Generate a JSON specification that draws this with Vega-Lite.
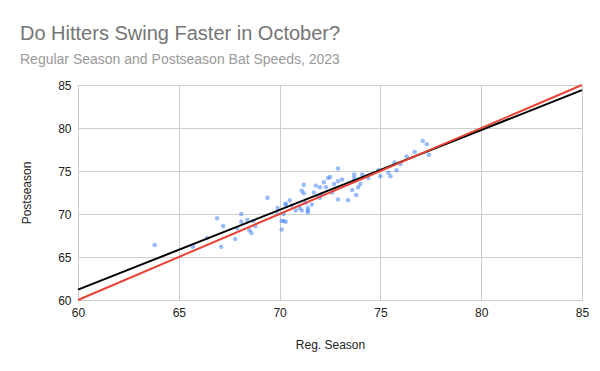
{
  "$schema": "https://vega.github.io/schema/vega-lite/v6.json",
  "width": 504,
  "height": 215,
  "autosize": "none",
  "padding": {"left": 78, "top": 85, "right": 18, "bottom": 71},
  "background": "white",
  "config": {
    "view": {"stroke": null},
    "font": "Liberation Sans",
    "axis": {
      "gridColor": "#cccccc",
      "domain": false,
      "ticks": false,
      "labelFlush": false,
      "labelColor": "#222222",
      "labelFontSize": 12,
      "labelFont": "Liberation Sans",
      "titleFont": "Liberation Sans",
      "titleFontSize": 12,
      "titleFontWeight": "normal",
      "titleColor": "#222222"
    }
  },
  "title": {
    "text": "Do Hitters Swing Faster in October?",
    "subtitle": "Regular Season and Postseason Bat Speeds, 2023",
    "anchor": "start",
    "frame": "group",
    "dx": -58,
    "offset": 12,
    "font": "Liberation Sans",
    "fontSize": 20,
    "fontWeight": "normal",
    "color": "#757575",
    "subtitleFont": "Liberation Sans",
    "subtitleFontSize": 14,
    "subtitleColor": "#999999",
    "subtitlePadding": 9
  },
  "datasets": {
    "players": [
      {"reg": 63.8, "post": 66.4}, {"reg": 65.7, "post": 66.2}, {"reg": 66.4, "post": 67.2},
      {"reg": 66.9, "post": 69.5}, {"reg": 67.2, "post": 68.6}, {"reg": 67.1, "post": 66.2},
      {"reg": 67.8, "post": 67.1}, {"reg": 67.9, "post": 68.3}, {"reg": 68.1, "post": 70.0},
      {"reg": 68.1, "post": 69.1}, {"reg": 68.4, "post": 69.3}, {"reg": 68.5, "post": 68.1},
      {"reg": 68.6, "post": 67.8}, {"reg": 68.7, "post": 69.2}, {"reg": 68.8, "post": 68.6},
      {"reg": 69.4, "post": 71.9}, {"reg": 69.9, "post": 70.7}, {"reg": 69.9, "post": 70.0},
      {"reg": 70.1, "post": 68.2}, {"reg": 70.1, "post": 69.2}, {"reg": 70.2, "post": 69.2},
      {"reg": 70.3, "post": 69.1}, {"reg": 70.2, "post": 70.0}, {"reg": 70.3, "post": 71.1},
      {"reg": 70.3, "post": 71.2}, {"reg": 70.5, "post": 71.6}, {"reg": 70.6, "post": 71.0},
      {"reg": 70.8, "post": 70.4}, {"reg": 71.0, "post": 70.7}, {"reg": 71.1, "post": 70.4},
      {"reg": 71.2, "post": 73.4}, {"reg": 71.1, "post": 72.7}, {"reg": 71.2, "post": 72.4},
      {"reg": 71.3, "post": 71.3}, {"reg": 71.4, "post": 70.4}, {"reg": 71.4, "post": 70.2},
      {"reg": 71.4, "post": 70.7}, {"reg": 71.6, "post": 71.1}, {"reg": 71.7, "post": 72.5},
      {"reg": 71.8, "post": 73.3}, {"reg": 71.9, "post": 72.1}, {"reg": 72.0, "post": 71.9},
      {"reg": 72.1, "post": 72.3}, {"reg": 72.0, "post": 73.1}, {"reg": 72.2, "post": 73.7},
      {"reg": 72.3, "post": 73.1}, {"reg": 72.4, "post": 74.2}, {"reg": 72.5, "post": 74.3},
      {"reg": 72.7, "post": 73.5}, {"reg": 72.9, "post": 73.8}, {"reg": 72.9, "post": 71.7},
      {"reg": 72.6, "post": 72.5}, {"reg": 72.9, "post": 75.3}, {"reg": 73.1, "post": 74.0},
      {"reg": 73.4, "post": 71.6}, {"reg": 73.7, "post": 74.6}, {"reg": 73.7, "post": 74.2},
      {"reg": 73.7, "post": 73.8}, {"reg": 73.6, "post": 72.8}, {"reg": 73.9, "post": 73.1},
      {"reg": 73.8, "post": 72.2}, {"reg": 74.1, "post": 74.6}, {"reg": 74.0, "post": 73.5},
      {"reg": 74.4, "post": 74.2}, {"reg": 74.9, "post": 75.1}, {"reg": 75.0, "post": 74.4},
      {"reg": 75.4, "post": 74.8}, {"reg": 75.5, "post": 74.4}, {"reg": 75.8, "post": 75.1},
      {"reg": 75.7, "post": 76.0}, {"reg": 76.0, "post": 75.8}, {"reg": 76.3, "post": 76.7},
      {"reg": 76.7, "post": 77.2}, {"reg": 77.1, "post": 78.5}, {"reg": 77.3, "post": 78.1},
      {"reg": 77.4, "post": 76.9}
    ],
    "lines": [
      {"series": "trend", "reg": 60, "post": 61.2},
      {"series": "trend", "reg": 85, "post": 84.4},
      {"series": "equal", "reg": 60, "post": 60},
      {"series": "equal", "reg": 85, "post": 85}
    ]
  },
  "layer": [
    {
      "data": {"name": "players"},
      "mark": {"type": "circle", "size": 20, "color": "#4285f4", "opacity": 0.55},
      "encoding": {
        "x": {"field": "reg", "type": "quantitative", "scale": {"domain": [60, 85], "nice": false, "zero": false}, "axis": {"title": "Reg. Season", "values": [60, 65, 70, 75, 80, 85], "labelPadding": 7, "titlePadding": 21}},
        "y": {"field": "post", "type": "quantitative", "scale": {"domain": [60, 85], "nice": false, "zero": false}, "axis": {"title": "Postseason", "values": [60, 65, 70, 75, 80, 85], "labelPadding": 7, "titlePadding": 24}}
      }
    },
    {
      "data": {"name": "lines"},
      "mark": {"type": "line", "strokeWidth": 2},
      "encoding": {
        "x": {"field": "reg", "type": "quantitative"},
        "y": {"field": "post", "type": "quantitative"},
        "detail": {"field": "series"},
        "color": {"field": "series", "type": "nominal", "scale": {"domain": ["trend", "equal"], "range": ["#000000", "#ea4335"]}, "legend": null}
      }
    }
  ]
}
